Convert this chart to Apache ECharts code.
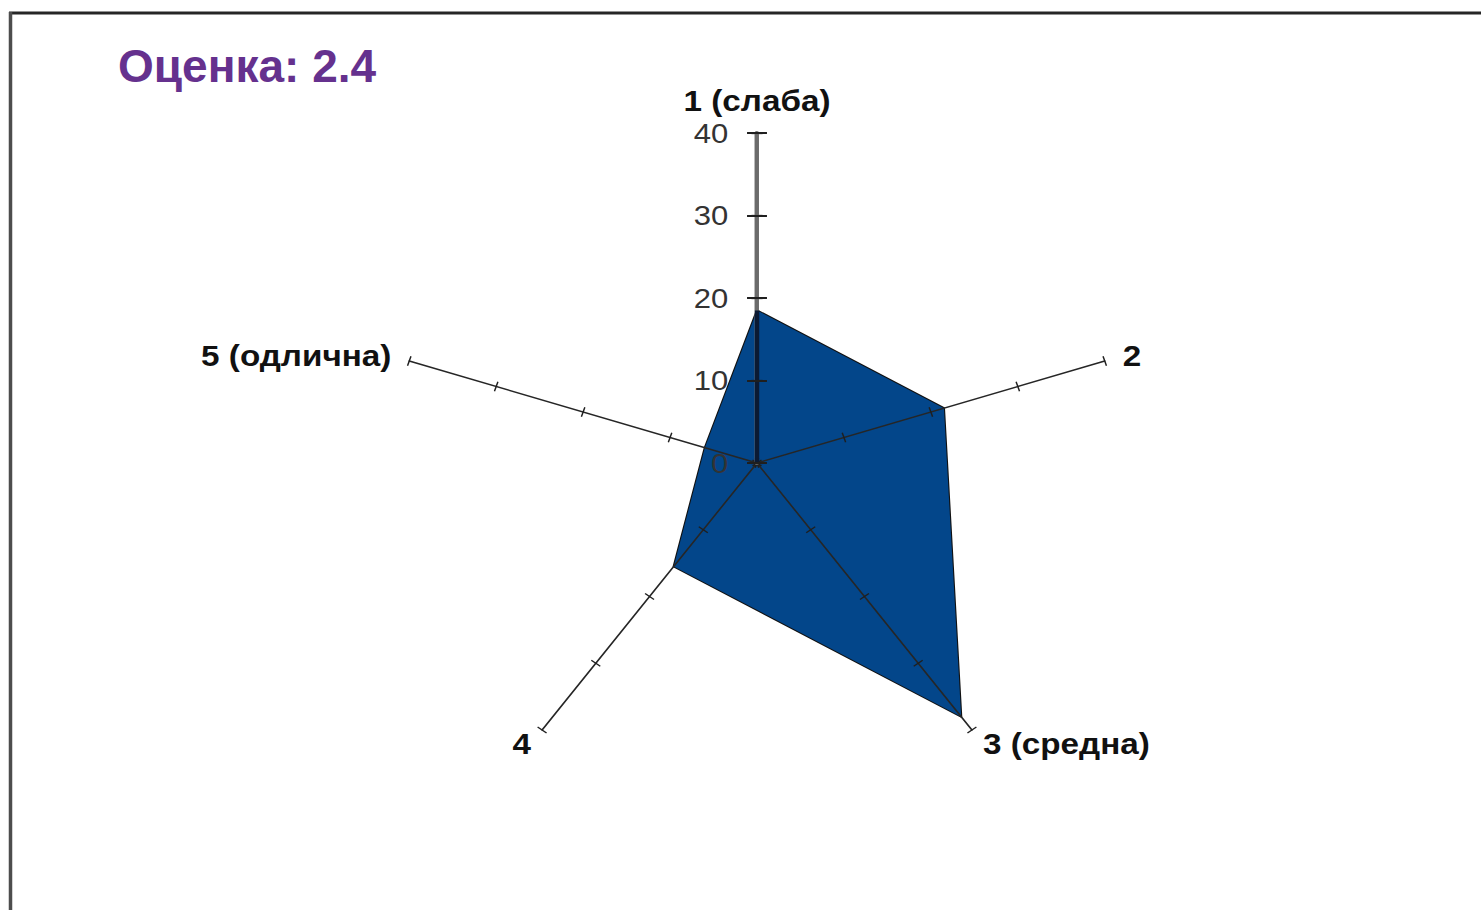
<!DOCTYPE html>
<html>
<head>
<meta charset="utf-8">
<title>Оценка</title>
<script src="https://cdn.jsdelivr.net/npm/echarts@6.0.0/dist/echarts.min.js"></script>
<style>
  html, body { margin: 0; padding: 0; background: #fff; overflow: hidden; }
  #radarChart { position: absolute; left: 0; top: 0; height: 910px; transform-origin: 0 0; }
</style>
</head>
<body>
<div id="radarChart"></div>
<script>
// data
const categories = ["1 (слаба)", "2", "3 (средна)", "4", "5 (одлична)"];
const values = [18.5, 21.5, 38, 15.5, 6];
const tickLabels = [0, 10, 20, 30, 40];
const titleText = "Оценка: 2.4";

// the original chart is stretched sideways, so the whole canvas is scaled in x
const SX = 1.108;
const W = 1481 / SX;
const cx = 757 / SX, cy = 463, r = 330;
const axisMax = tickLabels[tickLabels.length - 1];
const step = tickLabels[1] - tickLabels[0];
const FONT = '"Liberation Sans", Arial, sans-serif';

// radar indicators run counterclockwise from the top
const order = [0, 4, 3, 2, 1];
const indicator = order.map((i) => ({ name: categories[i], min: 0, max: axisMax }));
const seriesValues = order.map((i) => values[i]);

const dom = document.getElementById("radarChart");
dom.style.width = W + "px";
dom.style.transform = "scaleX(" + SX + ")";

const radarBase = {
  center: [cx, cy],
  radius: r,
  startAngle: 90,
  splitNumber: 4,
  shape: "polygon",
  indicator: indicator,
  splitLine: { show: false },
  splitArea: { show: false },
  axisLabel: { show: false },
  z: 3,
};

const tickStyle = { color: "#1f1f1f", width: 1.3 };

// vertical value axis over the first spoke
const yBase = {
  type: "value",
  position: "left",
  min: 0,
  max: axisMax,
  interval: step,
  splitLine: { show: false },
};

const option = {
  animation: false,
  backgroundColor: "#fff",
  graphic: [
    {
      type: "text",
      x: 118 / SX,
      y: 43,
      scaleX: 1 / SX,
      style: {
        text: titleText,
        fill: "#65318e",
        font: "bold 46px " + FONT,
        textVerticalAlign: "top",
      },
    },
    {
      type: "line",
      shape: { x1: 9 / SX, y1: 13, x2: W, y2: 13 },
      style: { stroke: "#262626", lineWidth: 3 },
    },
    {
      type: "line",
      shape: { x1: 10.5 / SX, y1: 12, x2: 10.5 / SX, y2: 910 },
      style: { stroke: "#4d4d4d", lineWidth: 3.5 / SX },
    },
  ],
  radar: [
    Object.assign({}, radarBase, {
      nameGap: 17,
      axisName: {
        color: "#111",
        fontSize: 30,
        fontWeight: "bold",
        fontFamily: FONT,
      },
      axisLine: { lineStyle: { color: "#262626", width: 1.5 } },
      axisTick: { show: true, length: 5, lineStyle: tickStyle },
    }),
    Object.assign({}, radarBase, {
      axisName: { show: false },
      axisLine: { show: false },
      axisTick: { show: true, length: -5, lineStyle: tickStyle },
    }),
  ],
  grid: { left: cx, top: cy - r, width: 1, height: r },
  xAxis: { type: "value", min: 0, max: 1, show: false },
  yAxis: [
    Object.assign({}, yBase, {
      z: 4,
      axisLine: { show: true, onZero: false, lineStyle: { color: "#6b6b6b", width: 4 } },
      axisTick: { show: false },
      axisLabel: { show: false },
    }),
    Object.assign({}, yBase, {
      z: 6,
      axisLine: { show: false, onZero: false },
      axisTick: { show: true, length: 9, lineStyle: { color: "#1f1f1f", width: 2 } },
      axisLabel: {
        color: "#333",
        fontSize: 28,
        fontFamily: FONT,
        margin: 26,
      },
    }),
    Object.assign({}, yBase, {
      z: 6,
      axisLine: { show: false, onZero: false },
      axisTick: { show: true, inside: true, length: 9, lineStyle: { color: "#1f1f1f", width: 2 } },
      axisLabel: { show: false },
    }),
  ],
  series: [
    {
      type: "radar",
      radarIndex: 0,
      symbol: "none",
      z: 2,
      lineStyle: { color: "#111", width: 2 },
      areaStyle: { color: "#03468a", opacity: 1 },
      data: [{ value: seriesValues, name: "Оценка" }],
    },
    {
      // dark part of the first spoke, inside the filled area
      type: "line",
      xAxisIndex: 0,
      yAxisIndex: 0,
      symbol: "none",
      z: 5,
      silent: true,
      lineStyle: { color: "#0b1a33", width: 4 },
      data: [[0, 0], [0, values[0]]],
    },
  ],
};

const chartObj = echarts.init(dom, null, { renderer: "svg" });
chartObj.setOption(option);
</script>
</body>
</html>
